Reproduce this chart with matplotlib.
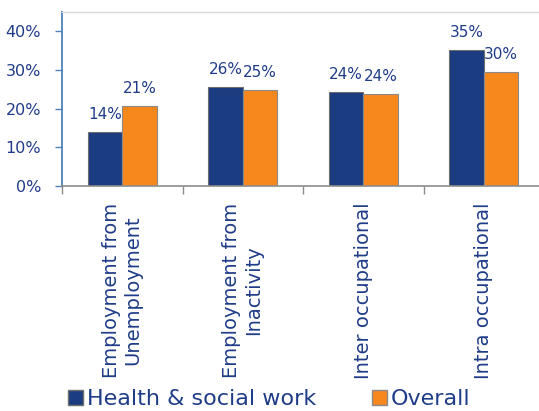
import matplotlib
matplotlib.use("Agg")
import matplotlib.pyplot as plt
from matplotlib.patches import Patch
import numpy as np

categories = ["Employment from\nUnemployment", "Employment from\nInactivity",
              "Inter occupational", "Intra occupational"]
health = [14.0, 25.6, 24.3, 35.2]
overall = [20.8, 24.9, 23.9, 29.5]
health_labels = ["14%", "26%", "24%", "35%"]
overall_labels = ["21%", "25%", "24%", "30%"]
yticks = [0, 10, 20, 30, 40]
ytick_labels = ["0%", "10%", "20%", "30%", "40%"]
series_names = ["Health & social work", "Overall"]

TEXT = "#1F3C88"
BLUE = "#1B3C80"
ORANGE = "#F7881E"

plt.rcParams['font.family'] = ['DejaVu Sans']

fig = plt.figure(figsize=(5.39, 4.11), dpi=100)
ax = fig.add_axes([62/539, 225/411, 482/539, 174/411])

x = np.arange(len(categories))
w = 0.286
b1 = ax.bar(x - w/2, health, w, color=BLUE, edgecolor="#6E6E6E", linewidth=0.8)
b2 = ax.bar(x + w/2, overall, w, color=ORANGE, edgecolor="#8A8A8A", linewidth=0.8)

for rects, labs in ((b1, health_labels), (b2, overall_labels)):
    for r, lab in zip(rects, labs):
        ax.annotate(lab, (r.get_x() + r.get_width()/2, r.get_height()),
                    xytext=(0, 7), textcoords="offset points",
                    ha="center", va="bottom", fontsize=11, color=TEXT)

ax.set_xlim(-0.5, len(categories) - 0.5)
ax.set_ylim(0, 45)
ax.set_yticks(yticks)
ax.set_yticklabels(ytick_labels, fontsize=11.5, color=TEXT)
ax.tick_params(axis='y', direction='out', length=5, color="#4F81BD", width=1, pad=10)

ax.set_xticks(x)
ax.set_xticklabels(categories, rotation=90, fontsize=14, color=TEXT,
                   va="top", ha="center", multialignment="center")
ax.tick_params(axis='x', which='major', length=0, pad=12)
ax.set_xticks(np.arange(-0.5, len(categories) - 0.5, 1.0), minor=True)
ax.tick_params(axis='x', which='minor', direction='out', length=6, color="#8C8C8C", width=1)

ax.spines['left'].set_color("#4F81BD")
ax.spines['left'].set_linewidth(1.3)
ax.spines['bottom'].set_color("#8C8C8C")
ax.spines['bottom'].set_linewidth(1.2)
ax.spines['top'].set_color("#D9D9D9")
ax.spines['top'].set_linewidth(1.0)
ax.spines['right'].set_visible(False)

handles = [Patch(facecolor=BLUE, edgecolor="#6E6E6E"),
           Patch(facecolor=ORANGE, edgecolor="#8A8A8A")]
fig.legend(handles, series_names, loc="center", bbox_to_anchor=(0.5, 12/411),
           ncol=2, frameon=False, fontsize=16, labelcolor=TEXT,
           handlelength=0.65, handleheight=0.65, handletextpad=0.2,
           columnspacing=2.5, borderaxespad=0)

fig.savefig("out.png", dpi=100)
